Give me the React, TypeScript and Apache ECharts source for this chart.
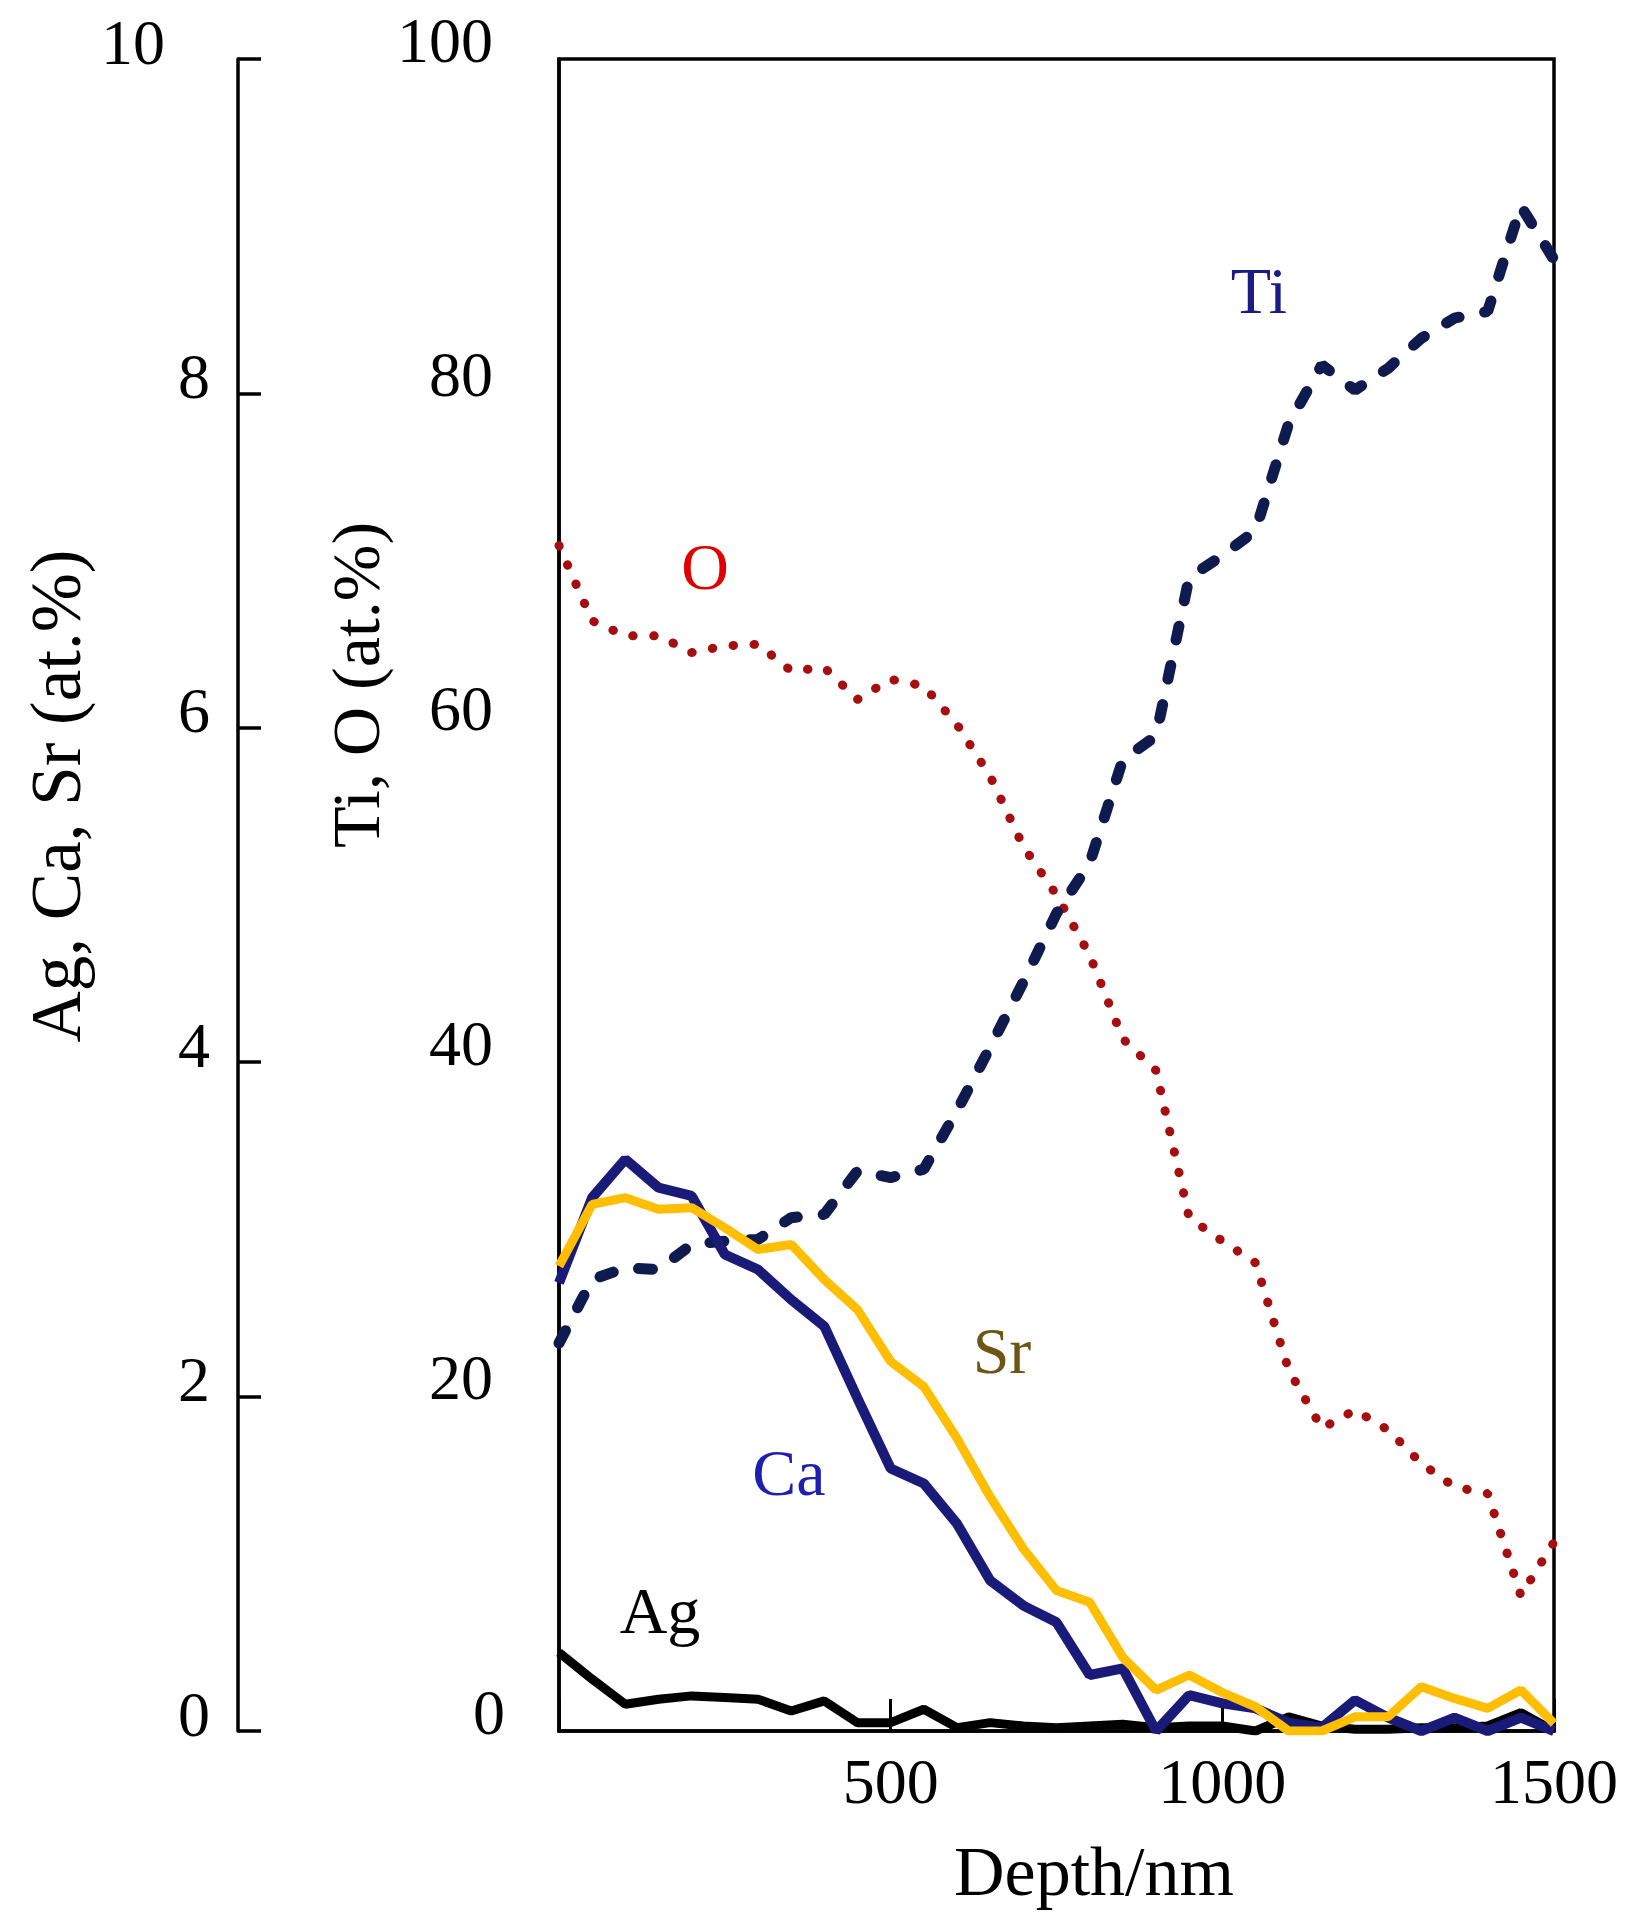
import React, { useEffect, useRef } from "react";
import * as echarts from "echarts";

const depth = [0, 50, 100, 150, 200, 250, 300, 350, 400, 450, 500, 550, 600, 650, 700, 750, 800, 850, 900, 950, 1000, 1050, 1100, 1150, 1200, 1250, 1300, 1350, 1400, 1450, 1500];

const tiValues = [23.2, 27.0, 27.7, 27.6, 29.1, 29.3, 29.4, 30.7, 30.9, 33.5, 33.1, 33.6, 37.1, 40.9, 44.8, 48.9, 51.9, 58.1, 59.5, 69.0, 70.3, 71.8, 78.2, 81.7, 80.2, 81.5, 83.3, 84.5, 84.9, 91.2, 88.0];
const oValues = [70.9, 66.4, 65.5, 65.5, 64.5, 64.9, 65.0, 63.4, 63.6, 61.7, 62.9, 62.5, 60.2, 57.1, 52.9, 50.0, 46.4, 41.4, 39.5, 30.7, 29.3, 28.0, 21.6, 18.1, 19.2, 18.0, 16.0, 14.6, 14.2, 8.1, 11.3];
const caValues = [2.68, 3.19, 3.42, 3.25, 3.2, 2.85, 2.76, 2.58, 2.42, 1.99, 1.57, 1.48, 1.24, 0.9, 0.75, 0.65, 0.335, 0.375, 0.0, 0.215, 0.165, 0.135, 0.05, 0.02, 0.185, 0.08, 0.0, 0.08, 0.0, 0.08, 0.0];
const srValues = [2.78, 3.15, 3.19, 3.12, 3.13, 3.01, 2.88, 2.91, 2.7, 2.52, 2.21, 2.06, 1.75, 1.4, 1.09, 0.84, 0.77, 0.44, 0.245, 0.335, 0.23, 0.145, 0.0, 0.0, 0.085, 0.085, 0.265, 0.195, 0.135, 0.245, 0.045];
const agValues = [0.47, 0.31, 0.16, 0.19, 0.21, 0.2, 0.19, 0.12, 0.18, 0.05, 0.05, 0.13, 0.02, 0.05, 0.03, 0.02, 0.03, 0.04, 0.02, 0.03, 0.03, 0.0, 0.085, 0.03, 0.01, 0.01, 0.02, 0.02, 0.03, 0.11, 0.0];

const FONT = '"Liberation Serif", "Times New Roman", serif';

function pairs(ys: number[]) {
  return depth.map((d, i) => [d, ys[i]]);
}

export default function App() {
  const ref = useRef<HTMLDivElement>(null);

  useEffect(() => {
    document.body.style.margin = "0";
    if (!ref.current) return;
    const chart = echarts.init(ref.current, null, { renderer: "svg" });

    const labelText = (text: string, x: number, y: number, color: string, rotation = 0, size = 66) => ({
      type: "text",
      x,
      y,
      rotation,
      silent: true,
      style: {
        text,
        fill: color,
        fontSize: size,
        fontFamily: FONT,
        align: "center",
        verticalAlign: "middle",
      },
    });

    const richBase = { fontSize: 64, fontFamily: FONT, color: "#000" };

    chart.setOption({
      animation: false,
      backgroundColor: "#ffffff",
      grid: {
        left: 559,
        top: 59,
        right: 80,
        bottom: 200,
        show: true,
        borderColor: "#000",
        borderWidth: 3.5,
        backgroundColor: "transparent",
        containLabel: false,
      },
      xAxis: {
        type: "value",
        min: 0,
        max: 1500,
        interval: 500,
        axisLine: { show: true, lineStyle: { color: "#000", width: 3.5 } },
        axisTick: { show: true, inside: true, length: 32, lineStyle: { color: "#000", width: 3 } },
        splitLine: { show: false },
        axisLabel: {
          show: true,
          margin: 18,
          color: "#000",
          fontSize: 64,
          fontFamily: FONT,
          formatter: (v: number) => (v === 0 ? "" : String(v)),
        },
      },
      yAxis: [
        {
          type: "value",
          position: "left",
          min: 0,
          max: 100,
          interval: 20,
          axisLine: { show: true, onZero: false, lineStyle: { color: "#000", width: 3.5 } },
          axisTick: { show: false },
          splitLine: { show: false },
          axisLabel: {
            margin: 54,
            color: "#000",
            fontSize: 64,
            fontFamily: FONT,
            verticalAlign: "bottom",
            lineHeight: 38,
            formatter: (v: number) => (v === 0 ? "{z|0}" : "{n|" + v + "}"),
            rich: {
              z: { ...richBase, lineHeight: 38, padding: [0, 0, 0, 0] },
              n: { ...richBase, lineHeight: 38, padding: [0, 12, 0, 0] },
            },
          },
        },
        {
          type: "value",
          position: "left",
          offset: 321,
          min: 0,
          max: 10,
          interval: 2,
          axisLine: { show: true, onZero: false, lineStyle: { color: "#000", width: 3.5 } },
          axisTick: { show: true, inside: true, length: 23, lineStyle: { color: "#000", width: 3.5 } },
          splitLine: { show: false },
          axisLabel: {
            margin: 28,
            color: "#000",
            fontSize: 64,
            fontFamily: FONT,
            verticalAlign: "bottom",
            lineHeight: 34,
            formatter: (v: number) => (v === 10 ? "{t|10}" : "{n|" + v + "}"),
            rich: {
              t: { ...richBase, lineHeight: 34, padding: [0, 45, 0, 0] },
              n: { ...richBase, lineHeight: 34, padding: [0, 0, 0, 0] },
            },
          },
        },
      ],
      series: [
        {
          name: "O",
          type: "line",
          yAxisIndex: 0,
          data: pairs(oValues),
          showSymbol: false,
          symbol: "none",
          lineStyle: { color: "#a50f0f", width: 9, type: [0.5, 20.5], cap: "round" },
          z: 2,
        },
        {
          name: "Ti",
          type: "line",
          yAxisIndex: 0,
          data: pairs(tiValues),
          showSymbol: false,
          symbol: "none",
          lineStyle: { color: "#0f1a4f", width: 11, type: [14, 26], cap: "round" },
          z: 3,
        },
        {
          name: "Ag",
          type: "line",
          yAxisIndex: 1,
          data: pairs(agValues),
          showSymbol: false,
          symbol: "none",
          lineStyle: { color: "#000000", width: 9 },
          z: 4,
        },
        {
          name: "Ca",
          type: "line",
          yAxisIndex: 1,
          data: pairs(caValues),
          showSymbol: false,
          symbol: "none",
          lineStyle: { color: "#1a1a78", width: 10 },
          z: 5,
        },
        {
          name: "Sr",
          type: "line",
          yAxisIndex: 1,
          data: pairs(srValues),
          showSymbol: false,
          symbol: "none",
          lineStyle: { color: "#ffbf00", width: 9 },
          z: 6,
        },
      ],
      graphic: [
        labelText("Ag, Ca, Sr (at.%)", 56, 796, "#000", Math.PI / 2, 71),
        labelText("Ti, O (at.%)", 356, 685, "#000", Math.PI / 2, 68),
        labelText("Depth/nm", 1094, 1871, "#000", 0, 70),
        labelText("Ti", 1259, 290, "#1b1b85"),
        labelText("O", 705, 566, "#e00000"),
        labelText("Sr", 1002, 1350, "#6e5415"),
        labelText("Ca", 789, 1472, "#1e1eb0"),
        labelText("Ag", 660, 1610, "#000000"),
      ],
    });

    return () => chart.dispose();
  }, []);

  return <div ref={ref} style={{ width: 1634, height: 1931 }} />;
}
